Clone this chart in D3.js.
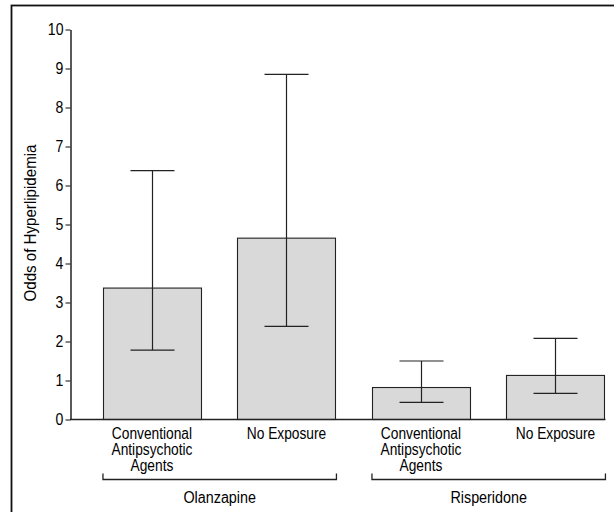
<!DOCTYPE html>
<html><head><meta charset="utf-8">
<script src="https://cdn.jsdelivr.net/npm/d3@7/dist/d3.min.js"></script>
<style>
body{margin:0;background:#fff;}
svg text{font-family:"Liberation Sans",Arial,sans-serif;fill:#000;}
</style></head>
<body>
<svg id="c" width="614" height="512"></svg>
<script>
const categories = ["Olanzapine|Conventional", "Olanzapine|None", "Risperidone|Conventional", "Risperidone|None"];
const categoryLabels = [["Conventional","Antipsychotic","Agents"],["No Exposure"],["Conventional","Antipsychotic","Agents"],["No Exposure"]];
const groups = ["Olanzapine", "Risperidone"];
const groupMembers = [[0,1],[2,3]];
const odds = [3.37, 4.65, 0.82, 1.13];
const lowerCI = [1.78, 2.39, 0.44, 0.67];
const upperCI = [6.38, 8.85, 1.50, 2.08];
const yTicks = [0,1,2,3,4,5,6,7,8,9,10];
const yTitle = "Odds of Hyperlipidemia";

const svg = d3.select("#c");
svg.append("rect").attr("x",11.5).attr("y",5.5).attr("width",640).attr("height",540)
  .attr("fill","none").attr("stroke","#111").attr("stroke-width",1.8);

const x = d3.scaleBand().domain(categories).range([70, 637.4]).paddingInner(0.2714).paddingOuter(0.245);
const y = d3.scaleLinear().domain([0,10]).range([419.5, 29.5]);

// bars
svg.selectAll("rect.bar").data(categories).enter().append("rect")
  .attr("class","bar")
  .attr("x", d => Math.round(x(d))+0.5)
  .attr("y", (d,i) => y(odds[i]))
  .attr("width", x.bandwidth())
  .attr("height", (d,i) => y(0) - y(odds[i]))
  .attr("fill","#d9d9d9").attr("stroke","#222").attr("stroke-width",1.1);

// error bars
const cap = 22;
categories.forEach((d,i) => {
  const cx = Math.round(x(d) + x.bandwidth()/2) + 0.5;
  const g = svg.append("g").attr("stroke","#222").attr("stroke-width",1.2);
  g.append("line").attr("x1",cx).attr("x2",cx).attr("y1",y(lowerCI[i])).attr("y2",y(upperCI[i]));
  g.append("line").attr("x1",cx-cap).attr("x2",cx+cap).attr("y1",y(lowerCI[i])).attr("y2",y(lowerCI[i]));
  g.append("line").attr("x1",cx-cap).attr("x2",cx+cap).attr("y1",y(upperCI[i])).attr("y2",y(upperCI[i]));
});

// y axis
const yAxis = d3.axisLeft(y).tickValues(yTicks).tickSize(5).tickPadding(3).tickSizeOuter(0);
const ga = svg.append("g").attr("transform","translate(70.5,0)").call(yAxis);
ga.attr("font-family",null).attr("font-size",null);
ga.select(".domain").attr("stroke","#222").attr("stroke-width",1.5);
ga.selectAll(".tick line").attr("stroke","#222").attr("stroke-width",1.1);
ga.selectAll(".tick text").attr("font-size",16).attr("fill","#000")
  .attr("transform","scale(0.88,1)");

// x axis baseline
const xEnd = x(categories[3]) + x.bandwidth();
svg.append("line").attr("x1",70).attr("x2",xEnd+1).attr("y1",y(0)).attr("y2",y(0))
  .attr("stroke","#222").attr("stroke-width",1.5);

// condensed text helper
function ctext(px, py, sx, size, lines, lh) {
  const t = svg.append("text").attr("text-anchor","middle").attr("font-size",size)
    .attr("transform",`translate(${px},${py}) scale(${sx},1)`);
  lines.forEach((ln,j) => t.append("tspan").attr("x",0).attr("y",j*lh).text(ln));
  return t;
}

// category labels
categories.forEach((d,i) => {
  const cx = x(d) + x.bandwidth()/2;
  ctext(cx, 439, 0.87, 15.8, categoryLabels[i], 16);
});

// group brackets
groups.forEach((gname,k) => {
  const a = x(categories[groupMembers[k][0]]);
  const b = x(categories[groupMembers[k][1]]) + x.bandwidth() + 1;
  const by = 479.5;
  svg.append("path").attr("d",`M${a},${by-6}V${by}H${b}V${by-6}`)
    .attr("fill","none").attr("stroke","#222").attr("stroke-width",1.3);
  ctext((a+b)/2, 502.5, 0.83, 17.3, [gname], 0);
});

// y title
svg.append("text").attr("transform","translate(35.5,223) rotate(-90) scale(0.9,1)")
  .attr("text-anchor","middle").attr("font-size",16.8).text(yTitle);
</script>
</body></html>
